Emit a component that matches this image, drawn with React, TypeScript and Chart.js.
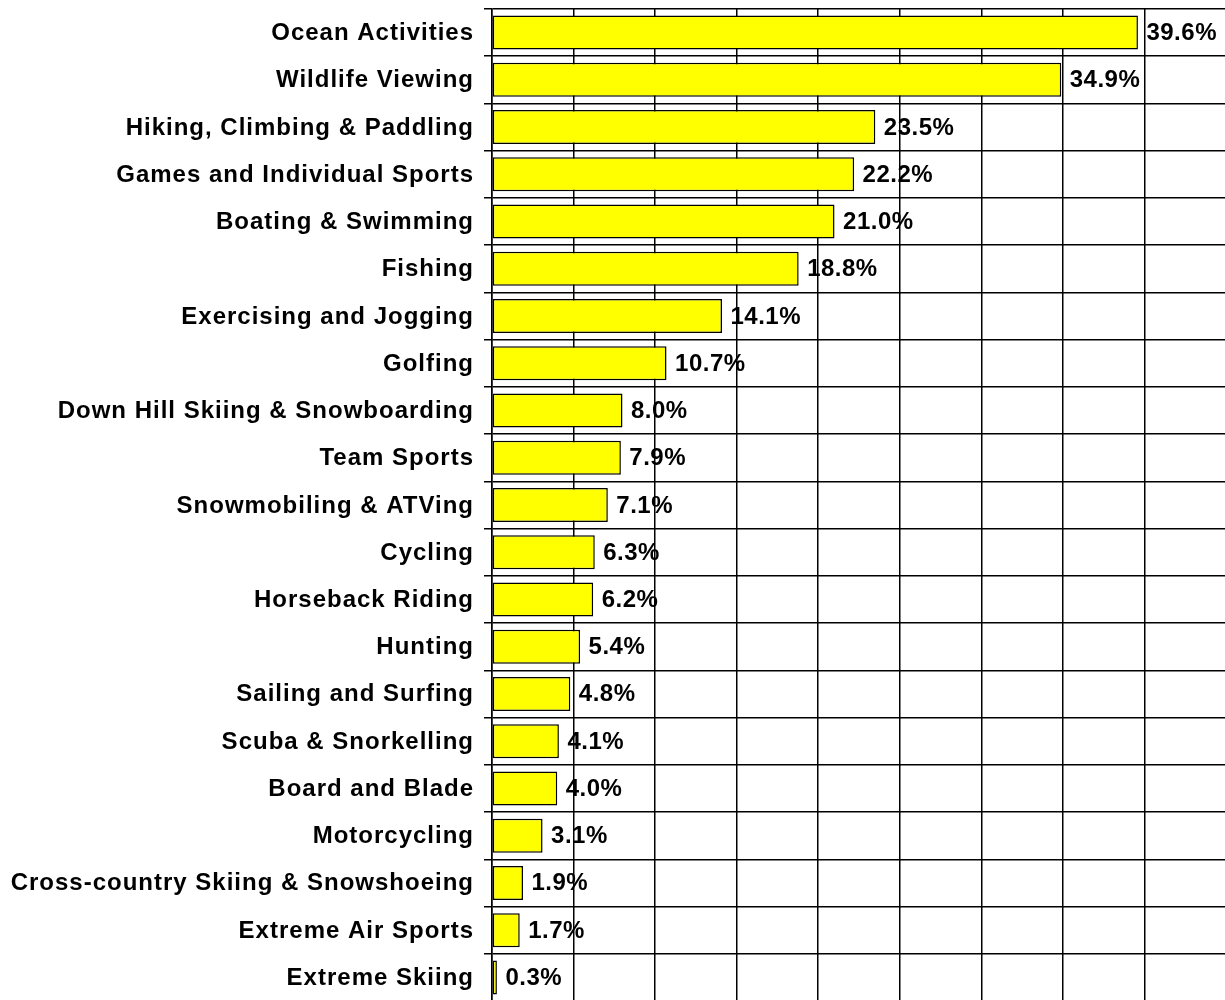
import React, { useEffect, useRef } from 'react';
import { Chart, registerables } from 'chart.js';

Chart.register(...registerables);

const categories: string[] = [
  'Ocean Activities',
  'Wildlife Viewing',
  'Hiking, Climbing & Paddling',
  'Games and Individual Sports',
  'Boating & Swimming',
  'Fishing',
  'Exercising and Jogging',
  'Golfing',
  'Down Hill Skiing & Snowboarding',
  'Team Sports',
  'Snowmobiling & ATVing',
  'Cycling',
  'Horseback Riding',
  'Hunting',
  'Sailing and Surfing',
  'Scuba & Snorkelling',
  'Board and Blade',
  'Motorcycling',
  'Cross-country Skiing & Snowshoeing',
  'Extreme Air Sports',
  'Extreme Skiing',
];

const values: number[] = [
  39.6, 34.9, 23.5, 22.2, 21.0, 18.8, 14.1, 10.7, 8.0, 7.9, 7.1, 6.3, 6.2, 5.4, 4.8, 4.1, 4.0, 3.1, 1.9, 1.7, 0.3,
];

const xMin = 0;
const xMax = 45;
const xStep = 5;

const FAMILY = '"Liberation Sans", Arial, Helvetica, sans-serif';

const labelPlugin = {
  id: 'customLabels',
  afterDatasetsDraw(chart: any) {
    const ctx = chart.ctx as CanvasRenderingContext2D;
    const ys = chart.scales.y;
    const xs = chart.scales.x;
    ctx.save();
    ctx.fillStyle = '#000000';
    ctx.textBaseline = 'alphabetic';
    categories.forEach((c, i) => {
      const cy = ys.getPixelForTick(i);
      ctx.font = 'bold 24px ' + FAMILY;
      (ctx as any).letterSpacing = '1px';
      ctx.textAlign = 'right';
      ctx.fillText(c, chart.chartArea.left - 18, cy + 7.5);
      const bx = xs.getPixelForValue(values[i]);
      ctx.font = 'bold 24px ' + FAMILY;
      (ctx as any).letterSpacing = '0.5px';
      ctx.textAlign = 'left';
      ctx.fillText(values[i].toFixed(1) + '%', bx + 8.5, cy + 7.5);
    });
    ctx.restore();
  },
};

export default function App() {
  const ref = useRef<HTMLCanvasElement | null>(null);

  useEffect(() => {
    if (!ref.current) return;
    const chart = new Chart(ref.current, {
      type: 'bar',
      data: {
        labels: categories,
        datasets: [
          {
            data: values,
            backgroundColor: '#FFFF00',
            borderColor: '#000000',
            borderWidth: 1.5,
            borderSkipped: false,
            barPercentage: 0.72,
            categoryPercentage: 1,
          } as any,
        ],
      },
      options: {
        indexAxis: 'y',
        responsive: false,
        maintainAspectRatio: false,
        animation: false,
        layout: { padding: { left: 0, top: 9, right: 14, bottom: 10 } },
        plugins: {
          legend: { display: false },
          tooltip: { enabled: false },
        },
        scales: {
          x: {
            type: 'linear',
            position: 'bottom',
            min: xMin,
            max: xMax,
            ticks: { display: false, stepSize: xStep },
            grid: { color: '#000000', lineWidth: 1.5, drawTicks: false },
            border: { display: false },
            afterFit(s: any) {
              s.height = 0;
            },
          },
          y: {
            type: 'category',
            ticks: { display: false },
            grid: { color: '#000000', lineWidth: 1.5, offset: true, drawTicks: true, tickLength: 8 },
            border: { display: true, color: '#000000', width: 1.5 },
            afterFit(s: any) {
              s.width = 492;
            },
          },
        },
      } as any,
      plugins: [labelPlugin],
    });
    return () => chart.destroy();
  }, []);

  return (
    <div
      style={{
        position: 'fixed',
        left: 0,
        top: 0,
        width: 1225,
        height: 1000,
        overflow: 'hidden',
        background: '#ffffff',
      }}
    >
      <canvas ref={ref} width={1240} height={1011} style={{ display: 'block' }} />
    </div>
  );
}
